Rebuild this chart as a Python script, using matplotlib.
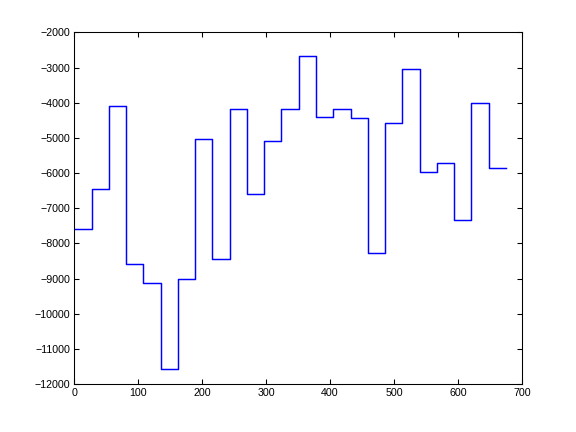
import matplotlib
matplotlib.use('Agg')
import matplotlib.pyplot as plt
import numpy as np

# step edges (every 27 samples) and the level held on each step
step_edges = [0, 27, 54, 81, 108, 135, 162, 189, 216, 243, 270, 297, 324,
              351, 378, 405, 432, 459, 486, 513, 540, 567, 594, 621, 648, 675]
levels = [-7600, -6465, -4105, -8600, -9135, -11580, -9025, -5040, -8455,
          -4190, -6605, -5100, -4190, -2675, -4400, -4190, -4445, -8275,
          -4585, -3050, -5980, -5725, -7345, -4020, -5865]

x_ticks = [0, 100, 200, 300, 400, 500, 600, 700]
y_ticks = [-12000, -11000, -10000, -9000, -8000, -7000, -6000, -5000,
           -4000, -3000, -2000]

plt.rcParams['font.family'] = ['Liberation Sans', 'DejaVu Sans']
fig = plt.figure(figsize=(6, 4.5), dpi=96)
ax = fig.add_axes([0.129, 0.111, 0.777, 0.814])

y = levels + [levels[-1]]
ax.plot(step_edges, y, drawstyle='steps-post', color='#0000ff', linewidth=1.1)

ax.set_xlim(0, 700)
ax.set_ylim(-12000, -2000)
ax.set_xticks(x_ticks)
ax.set_yticks(y_ticks)
ax.set_yticklabels([str(v).replace('-', '\u2212') for v in y_ticks])
ax.tick_params(direction='in', length=4, width=0.8, labelsize=8,
               top=True, right=True, pad=3)
for s in ax.spines.values():
    s.set_linewidth(0.8)

fig.savefig('out.png', dpi=96)
